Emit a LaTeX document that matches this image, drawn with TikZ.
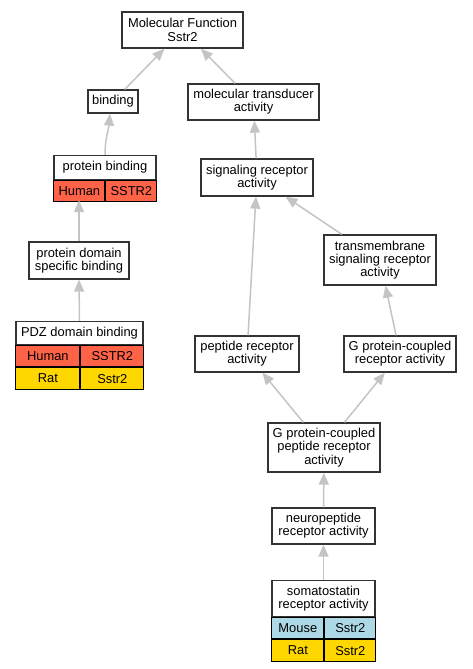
\documentclass[tikz,border=0pt]{standalone}
\usepackage{fontspec}
\setmainfont{Liberation Sans}
\usetikzlibrary{arrows.meta,calc}
\definecolor{boxc}{HTML}{333333}
\definecolor{edgec}{HTML}{C4C4C4}
\definecolor{human}{HTML}{FF6347}
\definecolor{rat}{HTML}{FFD700}
\definecolor{mouse}{HTML}{ADD8E6}
\newcommand{\lbl}{\fontsize{12.9}{13.3}\selectfont}
\tikzset{
  box/.style={draw=boxc, line width=1.3pt, fill=white, inner sep=0pt, align=center, font=\lbl},
  cell/.style={draw=black, line width=1pt, inner sep=0pt, font=\lbl, anchor=north west},
  holder/.style={inner sep=0pt},
  edge/.style={draw=edgec, line width=1.5pt, -{Triangle[length=12pt,width=10pt]}},
}
\begin{document}
\begin{tikzpicture}[x=1pt,y=-1pt]
\useasboundingbox (0,0) rectangle (472,669);
% plain boxes
\node[box, minimum width=121pt, minimum height=36pt] (mf) at (182.5,30) {Molecular Function\\Sstr2};
\node[box, minimum width=50pt, minimum height=23pt] (bind) at (113,101.5) {binding};
\node[box, minimum width=131pt, minimum height=36pt] (mta) at (253.5,102) {molecular transducer\\activity};
\node[box, minimum width=112pt, minimum height=37pt] (sra) at (257,177.5) {signaling receptor\\activity};
\node[box, minimum width=100pt, minimum height=37pt] (pdsb) at (79,260.5) {protein domain\\specific binding};
\node[box, minimum width=112pt, minimum height=50pt] (tsra) at (380,260) {transmembrane\\signaling receptor\\activity};
\node[box, minimum width=104pt, minimum height=36pt] (pra) at (247,354) {peptide receptor\\activity};
\node[box, minimum width=112pt, minimum height=36pt] (gpcr) at (400,354) {G protein-coupled\\receptor activity};
\node[box, minimum width=112pt, minimum height=49pt] (gppr) at (324,447.5) {G protein-coupled\\peptide receptor\\activity};
\node[box, minimum width=103pt, minimum height=36pt] (npra) at (323.5,526) {neuropeptide\\receptor activity};
% protein binding table
\node[holder, minimum width=102pt, minimum height=45pt] (pb) at (105,177.5) {};
\node[box, minimum width=102pt, minimum height=24pt, anchor=north] (pbt) at (pb.north) {protein binding};
\node[cell, fill=human, minimum width=51pt, minimum height=21pt] (pbh) at (pbt.south west) {Human};
\node[cell, fill=human, minimum width=51pt, minimum height=21pt] (pbg) at (pbh.north east) {SSTR2};
% PDZ table
\node[holder, minimum width=127pt, minimum height=66pt] (pdz) at (79.5,354) {};
\node[box, minimum width=127pt, minimum height=23pt, anchor=north] (pdzt) at (pdz.north) {PDZ domain binding};
\node[cell, fill=human, minimum width=64pt, minimum height=21pt] (pdzh) at (pdzt.south west) {Human};
\node[cell, fill=human, minimum width=63pt, minimum height=21pt] (pdzhg) at (pdzh.north east) {SSTR2};
\node[cell, fill=rat, minimum width=64pt, minimum height=22pt] (pdzr) at (pdzh.south west) {Rat};
\node[cell, fill=rat, minimum width=63pt, minimum height=22pt] (pdzrg) at (pdzr.north east) {Sstr2};
% somatostatin table
\node[holder, minimum width=103pt, minimum height=79pt] (ssra) at (323.5,619.5) {};
\node[box, minimum width=103pt, minimum height=36pt, anchor=north] (ssrat) at (ssra.north) {somatostatin\\receptor activity};
\node[cell, fill=mouse, minimum width=52pt, minimum height=21pt] (ssm) at (ssrat.south west) {Mouse};
\node[cell, fill=mouse, minimum width=51pt, minimum height=21pt] (ssmg) at (ssm.north east) {Sstr2};
\node[cell, fill=rat, minimum width=52pt, minimum height=22pt] (ssr) at (ssm.south west) {Rat};
\node[cell, fill=rat, minimum width=51pt, minimum height=22pt] (ssrg) at (ssr.north east) {Sstr2};
% edges
\draw[edge] (bind) -- (mf);
\draw[edge] (mta) -- (mf);
\draw[edge] (pb.north) to[out=90,in=-95] ($(bind.south)+(-3,0)$);
\draw[edge] (sra) -- (mta);
\draw[edge] (pdsb.north) -- (pdsb.north |- pb.south);
\draw[edge] (pdz.north) -- (pdsb.south);
\draw[edge] (tsra) -- (sra);
\draw[edge] (pra) -- (sra);
\draw[edge] (gpcr) -- (tsra);
\draw[edge] (gppr) -- (pra);
\draw[edge] (gppr) -- (gpcr);
\draw[edge] (npra) -- (gppr);
\draw[edge] (ssra) -- (npra);
\end{tikzpicture}
\end{document}
